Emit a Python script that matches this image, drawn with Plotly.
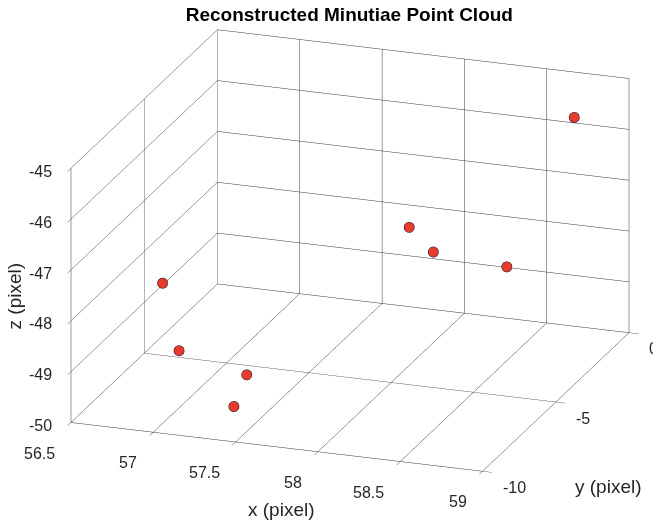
import plotly.graph_objects as go

# Reconstructed minutiae coordinates (pixel units)
x_vals = [58.80, 58.02, 58.30, 58.88, 56.70, 56.80, 57.30, 57.40]
y_vals = [-1.5, -4.0, -5.5, -7.0, -6.0, -6.0, -7.0, -9.0]
z_vals = [-45.43, -47.21, -47.18, -46.84, -48.27, -49.56, -49.57, -49.61]

x_ticks = [56.5, 57, 57.5, 58, 58.5, 59]
y_ticks = [-10, -5, 0]
z_ticks = [-50, -49, -48, -47, -46, -45]

X_RANGE = [56.5, 59]
Y_RANGE = [-10, 0]
Z_RANGE = [-50, -45]

FONT = "Liberation Sans, Arial, Helvetica, sans-serif"
GRID = "#383838"
TEXT = "#262626"

fig = go.Figure(
    go.Scatter3d(
        x=x_vals, y=y_vals, z=z_vals,
        mode="markers",
        marker=dict(size=6, color="#e63b2e", opacity=1,
                    line=dict(color="#111111", width=1.2)),
        hoverinfo="skip",
    )
)


def axis(ticks, rng):
    return dict(
        title=dict(text=""),
        range=rng, tickvals=ticks, ticktext=[" "] * len(ticks),
        showticklabels=True,
        showgrid=True, gridcolor=GRID, gridwidth=1,
        showline=True, linecolor=GRID, linewidth=1,
        zeroline=False, showbackground=False,
        ticks="outside", ticklen=10, tickcolor=GRID, tickwidth=1,
        showspikes=False, autorange=False,
    )


def fmt(t):
    return f"{t:g}"


tick_font = dict(family=FONT, size=16, color=TEXT)
label_font = dict(family=FONT, size=19, color=TEXT)

annotations = []
# x tick labels along the front-bottom edge
for t in x_ticks:
    annotations.append(dict(x=t, y=Y_RANGE[0], z=Z_RANGE[0], text=fmt(t),
                            showarrow=False, xanchor="right", yanchor="top",
                            xshift=-14, yshift=-20, font=tick_font))
# y tick labels along the right-bottom edge
for t in y_ticks:
    annotations.append(dict(x=X_RANGE[1], y=t, z=Z_RANGE[0], text=fmt(t),
                            showarrow=False, xanchor="left", yanchor="middle",
                            xshift=18, yshift=-16, font=tick_font))
# z tick labels along the front-left vertical edge
for t in z_ticks:
    annotations.append(dict(x=X_RANGE[0], y=Y_RANGE[0], z=t, text=fmt(t),
                            showarrow=False, xanchor="right", yanchor="middle",
                            xshift=-17, yshift=-3, font=tick_font))

# axis titles
annotations.append(dict(x=sum(X_RANGE) / 2, y=Y_RANGE[0], z=Z_RANGE[0],
                        text="x (pixel)", showarrow=False, xanchor="center",
                        yanchor="middle", xshift=5, yshift=-62, font=label_font))
annotations.append(dict(x=X_RANGE[1], y=sum(Y_RANGE) / 2, z=Z_RANGE[0],
                        text="y (pixel)", showarrow=False, xanchor="center",
                        yanchor="middle", xshift=53, yshift=-84, font=label_font))
annotations.append(dict(x=X_RANGE[0], y=Y_RANGE[0], z=sum(Z_RANGE) / 2,
                        text="z (pixel)", showarrow=False, xanchor="center",
                        yanchor="middle", xshift=-56, yshift=0, textangle=-90,
                        font=label_font))

eye = dict(x=0.3145 * 2, y=-0.8882 * 2, z=0.3349 * 2)

fig.update_layout(
    width=653, height=521,
    margin=dict(l=0, r=0, t=0, b=0),
    paper_bgcolor="white",
    showlegend=False,
    title=dict(text="<b>Reconstructed Minutiae Point Cloud</b>",
               x=0.535, xanchor="center", y=0.973, yanchor="middle",
               font=dict(family=FONT, size=19, color="#000000")),
    scene=dict(
        domain=dict(x=[0.072, 1.0], y=[0.038, 1.0]),
        xaxis=axis(x_ticks, X_RANGE),
        yaxis=axis(y_ticks, Y_RANGE),
        zaxis=axis(z_ticks, Z_RANGE),
        aspectmode="manual",
        aspectratio=dict(x=1.743, y=1.752, z=1.077),
        camera=dict(eye=eye, up=dict(x=0, y=0, z=1), center=dict(x=0, y=0, z=0),
                    projection=dict(type="orthographic")),
        bgcolor="white",
        annotations=annotations,
    ),
)

fig.write_html("out.html")
